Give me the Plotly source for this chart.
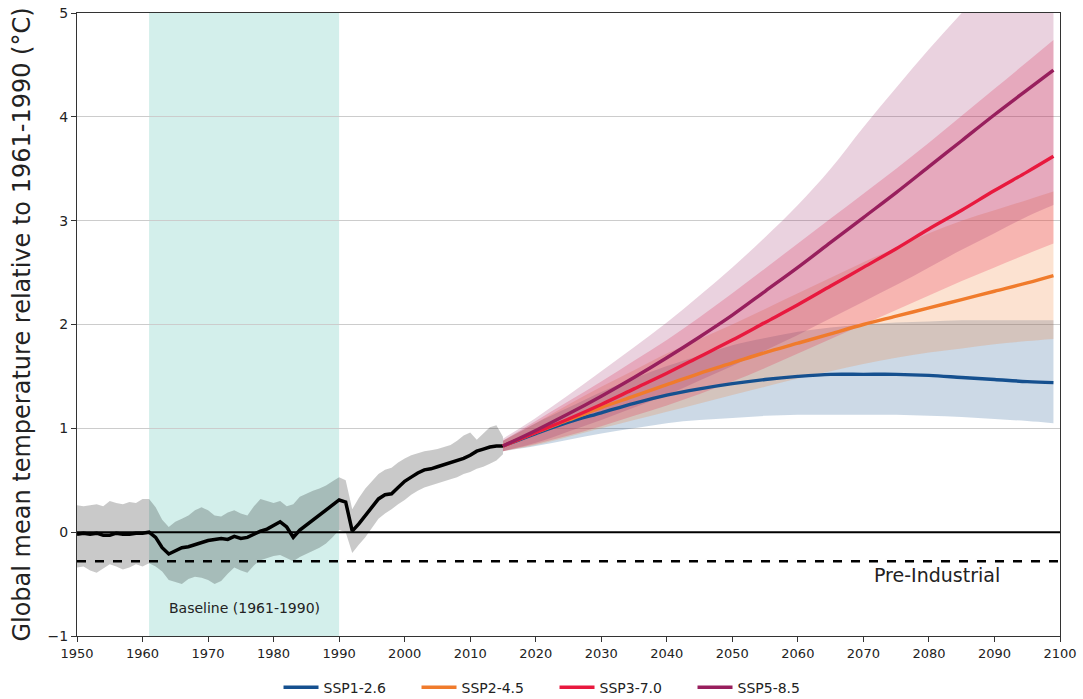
import plotly.graph_objects as go

# ---------------- data ----------------
hist_years = list(range(1950, 2016))
hist_mean = [-0.02, -0.01, -0.02, -0.01, -0.03, -0.03, -0.01, -0.02, -0.02, -0.01,
             -0.01, 0.00, -0.05, -0.15, -0.21, -0.18, -0.15, -0.14, -0.12, -0.10,
             -0.08, -0.07, -0.06, -0.07, -0.04, -0.06, -0.05, -0.02, 0.01, 0.03,
             0.07, 0.10, 0.05, -0.05, 0.02, 0.07, 0.11, 0.16, 0.21, 0.26,
             0.31, 0.29, 0.01, 0.08, 0.16, 0.24, 0.32, 0.36, 0.37, 0.43,
             0.49, 0.53, 0.57, 0.60, 0.61, 0.63, 0.65, 0.67, 0.69, 0.71,
             0.74, 0.78, 0.80, 0.82, 0.83, 0.83]
hist_upper = [0.26, 0.25, 0.26, 0.27, 0.25, 0.30, 0.28, 0.27, 0.29, 0.28,
              0.32, 0.32, 0.24, 0.12, 0.05, 0.10, 0.13, 0.16, 0.21, 0.24,
              0.21, 0.16, 0.15, 0.19, 0.21, 0.18, 0.16, 0.25, 0.32, 0.30,
              0.28, 0.30, 0.25, 0.27, 0.34, 0.37, 0.40, 0.42, 0.45, 0.49,
              0.53, 0.50, 0.22, 0.33, 0.42, 0.49, 0.56, 0.60, 0.62, 0.67,
              0.71, 0.74, 0.76, 0.78, 0.79, 0.80, 0.82, 0.84, 0.88, 0.93,
              0.96, 0.89, 0.95, 1.01, 1.03, 0.92]
hist_lower = [-0.34, -0.33, -0.37, -0.39, -0.35, -0.31, -0.33, -0.36, -0.34, -0.31,
              -0.33, -0.30, -0.33, -0.38, -0.46, -0.48, -0.50, -0.45, -0.43, -0.44,
              -0.46, -0.50, -0.47, -0.40, -0.34, -0.37, -0.39, -0.32, -0.27, -0.25,
              -0.23, -0.22, -0.25, -0.28, -0.24, -0.21, -0.18, -0.15, -0.11, -0.05,
              0.02, 0.00, -0.20, -0.12, -0.05, 0.04, 0.13, 0.18, 0.22, 0.27,
              0.31, 0.36, 0.40, 0.43, 0.45, 0.47, 0.49, 0.51, 0.53, 0.56,
              0.58, 0.61, 0.63, 0.66, 0.69, 0.75]

proj_years = [2015, 2020, 2025, 2030, 2035, 2040, 2045, 2050, 2055,
              2060, 2065, 2070, 2075, 2080, 2085, 2090, 2095, 2099]

ssp126_mean = [0.83, 0.95, 1.06, 1.15, 1.24, 1.32, 1.38, 1.43, 1.47,
               1.50, 1.52, 1.52, 1.52, 1.51, 1.49, 1.47, 1.45, 1.44]
ssp126_low = [0.78, 0.83, 0.89, 0.95, 1.00, 1.05, 1.08, 1.10, 1.12,
              1.13, 1.13, 1.13, 1.13, 1.12, 1.11, 1.09, 1.07, 1.05]
ssp126_high = [0.88, 1.05, 1.20, 1.35, 1.48, 1.60, 1.70, 1.80, 1.87,
               1.93, 1.97, 2.00, 2.02, 2.03, 2.04, 2.04, 2.04, 2.04]

ssp245_mean = [0.83, 0.96, 1.08, 1.20, 1.31, 1.42, 1.53, 1.63, 1.73,
               1.82, 1.91, 2.00, 2.08, 2.16, 2.24, 2.32, 2.40, 2.47]
ssp245_low = [0.78, 0.84, 0.92, 1.00, 1.08, 1.16, 1.24, 1.32, 1.40,
              1.48, 1.55, 1.62, 1.68, 1.73, 1.77, 1.81, 1.84, 1.86]
ssp245_high = [0.88, 1.05, 1.23, 1.40, 1.56, 1.72, 1.86, 2.00, 2.15,
               2.30, 2.45, 2.60, 2.74, 2.88, 3.00, 3.10, 3.20, 3.28]

ssp370_mean = [0.83, 0.96, 1.09, 1.23, 1.38, 1.53, 1.69, 1.85, 2.02,
               2.19, 2.37, 2.55, 2.73, 2.92, 3.10, 3.29, 3.47, 3.62]
ssp370_low = [0.78, 0.85, 0.93, 1.02, 1.12, 1.22, 1.33, 1.45, 1.58,
              1.72, 1.86, 2.00, 2.14, 2.28, 2.42, 2.55, 2.68, 2.78]
ssp370_high = [0.88, 1.07, 1.26, 1.45, 1.65, 1.85, 2.07, 2.30, 2.54,
               2.78, 3.02, 3.26, 3.50, 3.75, 4.01, 4.27, 4.53, 4.74]

ssp585_mean = [0.83, 0.98, 1.14, 1.31, 1.49, 1.68, 1.88, 2.09, 2.32,
               2.55, 2.79, 3.03, 3.27, 3.52, 3.77, 4.02, 4.26, 4.45]
ssp585_low = [0.78, 0.86, 0.97, 1.08, 1.20, 1.32, 1.46, 1.60, 1.75,
              1.90, 2.06, 2.22, 2.38, 2.55, 2.72, 2.88, 3.04, 3.15]
ssp585_high = [0.90, 1.10, 1.32, 1.55, 1.78, 2.02, 2.28, 2.55, 2.84,
               3.15, 3.50, 3.90, 4.28, 4.65, 5.00, 5.35, 5.70, 5.95]

scenario_names = ["SSP1-2.6", "SSP2-4.5", "SSP3-7.0", "SSP5-8.5"]
line_colors = ["#15508f", "#f07b2c", "#e8193e", "#981f5d"]
fill_colors = ["rgba(21,80,143,0.22)", "rgba(240,123,44,0.22)",
               "rgba(232,25,62,0.22)", "rgba(152,31,93,0.2)"]

baseline_start, baseline_end = 1961, 1990
preindustrial = -0.28

# ---------------- figure ----------------
fig = go.Figure()

# historical uncertainty band
fig.add_trace(go.Scatter(
    x=hist_years + hist_years[::-1], y=hist_upper + hist_lower[::-1],
    fill="toself", fillcolor="rgba(0,0,0,0.21)", line=dict(width=0),
    mode="lines", showlegend=False, hoverinfo="skip"))

means = [ssp126_mean, ssp245_mean, ssp370_mean, ssp585_mean]
lows = [ssp126_low, ssp245_low, ssp370_low, ssp585_low]
highs = [ssp126_high, ssp245_high, ssp370_high, ssp585_high]

for lo, hi, fc in zip(lows, highs, fill_colors):
    fig.add_trace(go.Scatter(
        x=proj_years, y=lo, mode="lines",
        line=dict(width=0, shape="spline"), showlegend=False, hoverinfo="skip"))
    fig.add_trace(go.Scatter(
        x=proj_years, y=hi, mode="lines", fill="tonexty", fillcolor=fc,
        line=dict(width=0, shape="spline"), showlegend=False, hoverinfo="skip"))

# historical mean
fig.add_trace(go.Scatter(
    x=hist_years, y=hist_mean, mode="lines",
    line=dict(color="black", width=3.5), showlegend=False))

for name, m, lc in zip(scenario_names, means, line_colors):
    fig.add_trace(go.Scatter(
        x=proj_years, y=m, mode="lines", name=name,
        line=dict(color=lc, width=3.4, shape="spline")))

# baseline shading
fig.add_vrect(x0=baseline_start, x1=baseline_end, fillcolor="#d3efeb",
              opacity=1, line_width=0, layer="below")

# zero line and pre-industrial line
fig.add_shape(type="line", x0=1950, x1=2100, y0=0, y1=0,
              line=dict(color="black", width=2), layer="above")
fig.add_shape(type="line", x0=1950, x1=2100, y0=preindustrial, y1=preindustrial,
              line=dict(color="black", width=2.5, dash="dash"), layer="above")

fig.add_annotation(x=(baseline_start + baseline_end) / 2, y=-0.73,
                   text="Baseline (1961-1990)", showarrow=False,
                   font=dict(size=14, color="#222", family="DejaVu Sans"))
fig.add_annotation(x=2081.2, y=-0.41, text="Pre-Industrial", showarrow=False,
                   font=dict(size=19, color="#222", family="DejaVu Sans"))

fig.update_layout(
    width=1083, height=699,
    margin=dict(l=77, r=23, t=13, b=63, autoexpand=False),
    paper_bgcolor="white", plot_bgcolor="white",
    font=dict(family="DejaVu Sans", color="#222"),
    showlegend=True,
    legend=dict(orientation="h", x=0.205, xanchor="left", y=-0.083,
                yanchor="middle", font=dict(size=14), itemwidth=35,
                entrywidth=88, entrywidthmode="pixels", traceorder="normal",
                bgcolor="rgba(0,0,0,0)"),
    xaxis=dict(range=[1950, 2100], tickvals=list(range(1950, 2101, 10)),
               showgrid=False, zeroline=False, ticks="outside", ticklen=5,
               tickcolor="#333", showline=True, linecolor="#333", linewidth=1.2,
               mirror=True, tickfont=dict(size=13), automargin=False,
               ticklabeloverflow="allow"),
    yaxis=dict(range=[-1, 5], tickvals=[-1, 0, 1, 2, 3, 4, 5],
               showgrid=True, gridcolor="#cccccc", gridwidth=1, zeroline=False,
               ticks="outside", ticklen=5, tickcolor="#333", showline=True,
               linecolor="#333", linewidth=1.2, mirror=True,
               tickfont=dict(size=14), automargin=False,
               ticklabeloverflow="allow",
               title=dict(text="Global mean temperature relative to 1961-1990 (°C)",
                          font=dict(size=24), standoff=10)),
)

# remove the default page margin so the figure fills the window exactly
fig.write_html("out.html", config={"displayModeBar": False},
               post_script="document.body.style.margin='0px';")
